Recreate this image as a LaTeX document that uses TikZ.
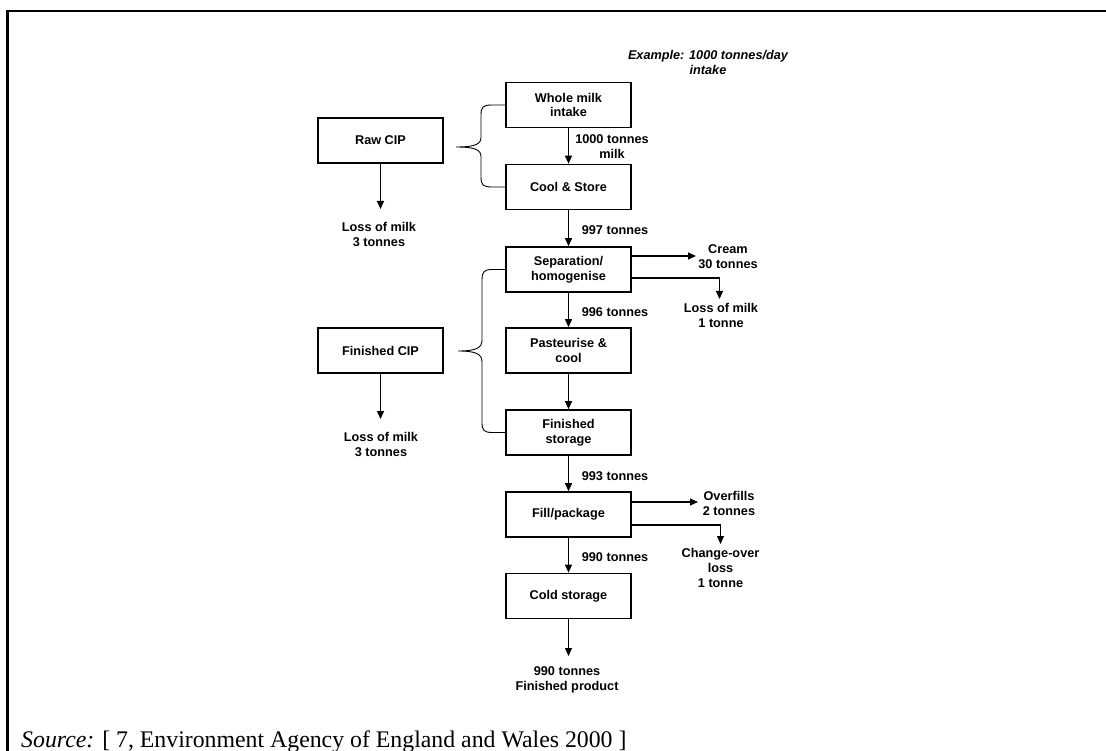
\documentclass[tikz,border=0pt]{standalone}
\usepackage{fontspec}
\setmainfont{Liberation Serif}
\newfontfamily\arialf{Liberation Sans}
\usetikzlibrary{arrows.meta}
\tikzset{
  procbox/.style={draw, line width=1.7pt, minimum width=125pt, minimum height=45pt, inner sep=0pt, align=center, font=\arialf\bfseries\fontsize{12.7}{14.5}\selectfont},
  lbl/.style={inner sep=0pt, align=center, font=\arialf\bfseries\fontsize{12.7}{15}\selectfont},
  arr/.style={line width=1.1pt, -{Triangle[length=8pt,width=7pt]}},
  plain/.style={line width=1.1pt},
  bracel/.style={line width=0.9pt},
  frame/.style={line width=2.6pt}
}
\begin{document}
\begin{tikzpicture}[x=1pt,y=-1pt]
\useasboundingbox (0,0) rectangle (1106,751);
\fill[white] (0,0) rectangle (1106,751);
% frame (only top and left edges visible)
\coordinate (f1) at (7.5,751);
\coordinate (f2) at (7.5,11);
\coordinate (f3) at (1106,11);
\draw[frame] (f1) -- (f2) -- (f3);

% example note
\node[lbl, font=\arialf\bfseries\itshape\fontsize{12.7}{15}\selectfont] (example) at (708,62.5) {Example: 1000 tonnes/day\\intake};

% main column
\node[procbox] (whole) at (568.5,105) {Whole milk\\intake};
\node[procbox] (cool) at (568.5,187) {Cool \& Store};
\node[procbox] (sep) at (568.5,269.5) {Separation/\\homogenise};
\node[procbox] (past) at (568.5,350.5) {Pasteurise \&\\cool};
\node[procbox] (fstore) at (568.5,432.5) {Finished\\storage};
\node[procbox] (fill) at (568.5,514.5) {Fill/package};
\node[procbox] (cold) at (568.5,596) {Cold storage};

% CIP boxes
\node[procbox] (raw) at (380.5,140.5) {Raw CIP};
\node[procbox] (fcip) at (380.5,350.5) {Finished CIP};

% vertical flow arrows
\draw[arr] (whole) -- (cool);
\draw[arr] (cool) -- (sep);
\draw[arr] (sep) -- (past);
\draw[arr] (past) -- (fstore);
\draw[arr] (fstore) -- (fill);
\draw[arr] (fill) -- (cold);

% flow labels
\node[lbl] (l1000) at (612,146.5) {1000 tonnes\\milk};
\node[lbl] (l997) at (615,230) {997 tonnes};
\node[lbl] (l996) at (615,312) {996 tonnes};
\node[lbl] (l993) at (615,476) {993 tonnes};
\node[lbl] (l990) at (615,557) {990 tonnes};

% final product
\coordinate (coldend) at (568.5,656);
\draw[arr] (cold) -- (coldend);
\node[lbl] (final) at (567,679.5) {990 tonnes\\Finished product};

% raw CIP loss
\coordinate (rawend) at (380.5,209);
\draw[arr] (raw) -- (rawend);
\node[lbl] (rawloss) at (379,234.5) {Loss of milk\\3 tonnes};

% finished CIP loss
\coordinate (fcipend) at (380.5,419);
\draw[arr] (fcip) -- (fcipend);
\node[lbl] (fciploss) at (381,444.5) {Loss of milk\\3 tonnes};

% cream and separation loss
\coordinate (creamend) at (696,256);
\draw[arr] ([yshift=13.5pt]sep.east) -- (creamend);
\node[lbl] (cream) at (728,256.5) {Cream\\30 tonnes};
\coordinate (seplossc) at (719.5,278);
\coordinate (seplossend) at (719.5,299);
\draw[plain] ([yshift=-8.5pt]sep.east) -- (seplossc);
\draw[arr] (seplossc) -- (seplossend);
\node[lbl] (seploss) at (721,315.5) {Loss of milk\\1 tonne};

% overfills and change-over
\coordinate (overend) at (698,502);
\draw[arr] ([yshift=12.5pt]fill.east) -- (overend);
\node[lbl] (over) at (729,503.5) {Overfills\\2 tonnes};
\coordinate (chgc) at (720.5,525);
\coordinate (chgend) at (720.5,544);
\draw[plain] ([yshift=-10.5pt]fill.east) -- (chgc);
\draw[arr] (chgc) -- (chgend);
\node[lbl] (chg) at (720.5,568) {Change-over\\loss\\1 tonne};

% braces
\coordinate (rtip) at (456,147);
\draw[bracel] (whole.west) -- (492,105) .. controls (483,105) and (481,107) .. (481,115)
  -- (481,137) .. controls (481,144) and (476,147) .. (rtip)
  .. controls (476,147) and (481,150) .. (481,157)
  -- (481,177) .. controls (481,185) and (483,187) .. (492,187) -- (cool.west);

\coordinate (ftip) at (458,351);
\draw[bracel] (sep.west) -- (492,269.5) .. controls (484,269.5) and (482,272) .. (482,280)
  -- (482,340) .. controls (482,348) and (476,351) .. (ftip)
  .. controls (476,351) and (482,354) .. (482,362)
  -- (482,423) .. controls (482,430) and (484,432.5) .. (492,432.5) -- (fstore.west);

% source
\node[anchor=base west, inner sep=0pt, font=\fontsize{23.8}{27}\selectfont] (source) at (21,747) {\textit{Source:} [ 7, Environment Agency of England and Wales 2000 ]};
\end{tikzpicture}
\end{document}
